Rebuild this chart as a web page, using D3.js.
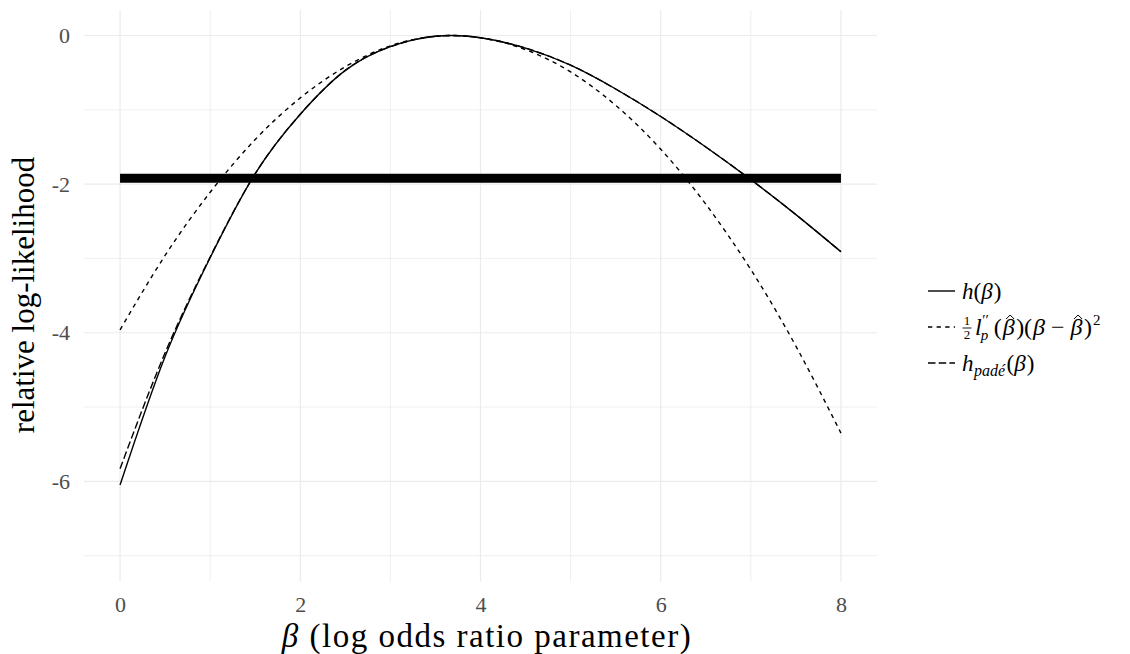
<!DOCTYPE html>
<html><head><meta charset="utf-8">
<script src="https://cdn.jsdelivr.net/npm/d3@7"></script>
<style>
body{margin:0;background:#fff}
text{font-family:"Liberation Serif","Times New Roman",serif}
</style>
</head><body>
<svg id="chart" width="1130" height="654"></svg>
<script>
// ---- data ----
const beta = [0,0.5,1,1.5,2,2.5,3,3.5,4,4.5,5,5.5,6,6.5,7,7.5,8];
const hVals = [-6.05,-4.32,-2.99,-1.86,-1.06,-0.47,-0.15,-0.01,-0.03,-0.17,-0.40,-0.72,-1.09,-1.50,-1.94,-2.41,-2.91];
const quadVals = [-3.96,-2.96,-2.11,-1.40,-0.84,-0.42,-0.14,-0.01,-0.03,-0.19,-0.49,-0.94,-1.53,-2.27,-3.15,-4.18,-5.35];
const padeVals = [-5.83,-4.27,-2.98,-1.86,-1.06,-0.47,-0.15,-0.01,-0.03,-0.17,-0.40,-0.72,-1.09,-1.50,-1.94,-2.41,-2.91];
const cutoffLevel = -1.92;
const cutoffRange = [0, 8];
const xTicks = [0,2,4,6,8];
const xMinor = [1,3,5,7];
const yTicks = [0,-2,-4,-6];
const yMinor = [-1,-3,-5,-7];
const xTitle = "(log odds ratio parameter)";
const yTitle = "relative log-likelihood";

const svg = d3.select("#chart");
const panel = {left:84, right:877, top:10, bottom:581.7};
const x = d3.scaleLinear().domain([-0.4, 8.4]).range([panel.left, panel.right]);
const y = d3.scaleLinear().domain([-7.35, 0.343]).range([panel.bottom, panel.top]);

const grid = svg.append("g");
grid.selectAll(".vmin").data(xMinor).join("line")
  .attr("x1",d=>x(d)).attr("x2",d=>x(d)).attr("y1",panel.top).attr("y2",panel.bottom)
  .attr("stroke","#ebebeb").attr("stroke-width",0.8);
grid.selectAll(".hmin").data(yMinor).join("line")
  .attr("y1",d=>y(d)).attr("y2",d=>y(d)).attr("x1",panel.left).attr("x2",panel.right)
  .attr("stroke","#ebebeb").attr("stroke-width",0.8);
grid.selectAll(".vmaj").data(xTicks).join("line")
  .attr("x1",d=>x(d)).attr("x2",d=>x(d)).attr("y1",panel.top).attr("y2",panel.bottom)
  .attr("stroke","#ebebeb").attr("stroke-width",1.2);
grid.selectAll(".hmaj").data(yTicks).join("line")
  .attr("y1",d=>y(d)).attr("y2",d=>y(d)).attr("x1",panel.left).attr("x2",panel.right)
  .attr("stroke","#ebebeb").attr("stroke-width",1.2);

const xAxis = svg.append("g").attr("transform",`translate(0,${panel.bottom})`)
  .call(d3.axisBottom(x).tickValues(xTicks).tickSize(0).tickPadding(15));
const yAxis = svg.append("g").attr("transform",`translate(${panel.left},0)`)
  .call(d3.axisLeft(y).tickValues(yTicks).tickSize(0).tickPadding(14).tickFormat(d=>String(d)));
[xAxis,yAxis].forEach(a=>{
  a.select(".domain").remove();
  a.selectAll("text").attr("font-family",'"Liberation Serif",serif').attr("font-size",22).attr("fill","#4d4d4d");
});

// cutoff bar
svg.append("line")
  .attr("x1",x(cutoffRange[0])).attr("x2",x(cutoffRange[1]))
  .attr("y1",y(cutoffLevel)).attr("y2",y(cutoffLevel))
  .attr("stroke","#000").attr("stroke-width",9);

const line = vals => d3.line().x((d,i)=>x(beta[i])).y(d=>y(d)).curve(d3.curveNatural)(vals);
svg.append("path").attr("d",line(hVals)).attr("fill","none").attr("stroke","#000").attr("stroke-width",1.4);
svg.append("path").attr("d",line(quadVals)).attr("fill","none").attr("stroke","#000").attr("stroke-width",1.4).attr("stroke-dasharray","4.3,4.3");
svg.append("path").attr("d",line(padeVals)).attr("fill","none").attr("stroke","#000").attr("stroke-width",1.4).attr("stroke-dasharray","7.5,3.2");

// titles
const xt = svg.append("text").attr("x",487).attr("y",647)
  .attr("text-anchor","middle").attr("font-size",33).attr("letter-spacing",1.5).attr("fill","#000");
xt.append("tspan").attr("font-style","italic").text("β");
xt.append("tspan").text(" " + xTitle);
svg.append("text").attr("transform",`translate(34,295) rotate(-90)`)
  .attr("text-anchor","middle").attr("font-size",31).attr("fill","#000").text(yTitle);

// legend
const lg = svg.append("g");
const rows = [291, 327, 363];
const dashes = [null, "4.3,4.3", "7.5,3.2"];
rows.forEach((ry,i)=>{
  const l = lg.append("line").attr("x1",928).attr("x2",955).attr("y1",ry).attr("y2",ry)
    .attr("stroke","#000").attr("stroke-width",1.4);
  if(dashes[i]) l.attr("stroke-dasharray",dashes[i]);
});
const fs = 23, fsSmall = 15;
function piece(xp, yp, str, size, italic, anchor){
  const t = lg.append("text").attr("x",xp).attr("y",yp).attr("font-size",size).text(str);
  if(italic) t.attr("font-style","italic");
  if(anchor) t.attr("text-anchor",anchor);
  return t.node().getComputedTextLength();
}
function hat(cx, yb){
  lg.append("path").attr("d",`M${cx-4},${yb-16} L${cx},${yb-20} L${cx+4},${yb-16}`)
    .attr("fill","none").attr("stroke","#000").attr("stroke-width",1);
}
// row 1
let cx = 962, b = rows[0]+8;
cx += piece(cx,b,"h",fs,true);
cx += piece(cx,b,"(",fs,false);
cx += piece(cx,b,"β",fs,true) + 1;
cx += piece(cx,b,")",fs,false);
// row 2
const fs2 = 24;
b = rows[1]+8;
piece(967,rows[1]-2,"1",13,false,"middle");
lg.append("line").attr("x1",962.5).attr("x2",971.5).attr("y1",rows[1]+1).attr("y2",rows[1]+1).attr("stroke","#000").attr("stroke-width",0.9);
piece(967,rows[1]+12,"2",13,false,"middle");
cx = 975;
let lw = piece(cx,b,"l",fs2,true);
piece(cx+lw+0.5,b-10,"′′",fsSmall,false);
piece(cx+lw-1,b+5,"p",fsSmall,true);
cx += lw + 12;
cx += piece(cx,b,"(",fs2,false) + 1;
let bw = piece(cx,b,"β",fs2,true); hat(cx+bw/2+1.5,b); cx += bw + 1.5;
cx += piece(cx,b,")(",fs2,false) + 1;
cx += piece(cx,b,"β",fs2,true) + 6;
cx += piece(cx,b,"−",fs2,false) + 6;
bw = piece(cx,b,"β",fs2,true); hat(cx+bw/2+1.5,b); cx += bw + 1.5;
cx += piece(cx,b,")",fs2,false);
piece(cx+1,b-10,"2",fsSmall,false);
// row 3
b = rows[2]+8;
cx = 962;
cx += piece(cx,b,"h",fs,true) + 0.5;
cx += piece(cx,b+5,"padé",fsSmall+1,true) + 1.5;
cx += piece(cx,b,"(",fs,false);
cx += piece(cx,b,"β",fs,true) + 1;
cx += piece(cx,b,")",fs,false);
</script>
</body></html>
